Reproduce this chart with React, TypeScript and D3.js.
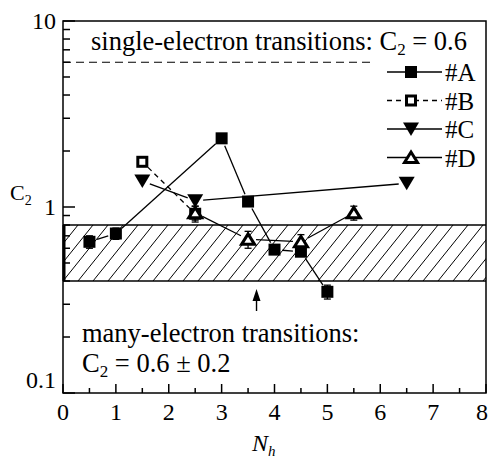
import React from "react";
import { scaleLinear, scaleLog, range } from "d3";

// sample #A .. #D : N_h vs C2
const nhA = [0.5, 1, 3, 3.5, 4, 4.5, 5];
const c2A = [0.65, 0.72, 2.34, 1.07, 0.59, 0.575, 0.35];
const errA = [0.05, 0.05, 0, 0, 0, 0, 0.03];

const nhB = [1.5, 2.5];
const c2B = [1.75, 0.92];
const errB = [0, 0.09];

const nhC = [1.5, 2.5, 6.5];
const c2C = [1.38, 1.08, 1.34];
const errC = [0, 0, 0];

const nhD = [2.5, 3.5, 4.5, 5.5];
const c2D = [0.93, 0.67, 0.65, 0.93];
const errD = [0.08, 0.07, 0.06, 0.08];

const xTicks = [0, 1, 2, 3, 4, 5, 6, 7, 8];
const yTicks = [0.1, 1, 10];
const yTickLabels = ["0.1", "1", "10"];

const singleLevel = 6;
const bandLow = 0.4;
const bandHigh = 0.8;
const arrowAt = 3.66;

const W = 489;
const H = 460;
const FONT = "Liberation Serif, Times New Roman, serif";

const x = scaleLinear().domain([0, 8]).range([63, 486]);
const y = scaleLog().domain([0.1, 10]).range([393, 21]);

type Series = {
  name: string;
  nh: number[];
  c2: number[];
  err: number[];
  marker: "sq" | "osq" | "tdown" | "otri";
  dash?: string;
};

const series: Series[] = [
  { name: "#A", nh: nhA, c2: c2A, err: errA, marker: "sq" },
  { name: "#B", nh: nhB, c2: c2B, err: errB, marker: "osq", dash: "5,4" },
  { name: "#C", nh: nhC, c2: c2C, err: errC, marker: "tdown" },
  { name: "#D", nh: nhD, c2: c2D, err: errD, marker: "otri" },
];

function Marker({ kind, cx, cy }: { kind: Series["marker"]; cx: number; cy: number }) {
  if (kind === "sq") return <rect x={cx - 6} y={cy - 6} width={12} height={12} fill="#000" />;
  if (kind === "osq")
    return <rect x={cx - 4.5} y={cy - 4.5} width={9} height={9} fill="#fff" stroke="#000" strokeWidth={3} />;
  if (kind === "tdown")
    return <path d={`M${cx - 8},${cy - 6.5}L${cx + 8},${cy - 6.5}L${cx},${cy + 7}Z`} fill="#000" />;
  return (
    <path
      d={`M${cx},${cy - 5.5}L${cx + 6.5},${cy + 5}L${cx - 6.5},${cy + 5}Z`}
      fill="#fff"
      stroke="#000"
      strokeWidth={3}
      strokeLinejoin="miter"
    />
  );
}

// connecting segments with a gap around each marker
function segments(s: Series, gap: number) {
  const out: JSX.Element[] = [];
  for (let i = 0; i < s.nh.length - 1; i++) {
    const x1 = x(s.nh[i]), y1 = y(s.c2[i]);
    const x2 = x(s.nh[i + 1]), y2 = y(s.c2[i + 1]);
    const len = Math.hypot(x2 - x1, y2 - y1);
    if (len <= 2 * gap) continue;
    const ux = (x2 - x1) / len, uy = (y2 - y1) / len;
    out.push(
      <line
        key={s.name + i}
        x1={x1 + ux * gap}
        y1={y1 + uy * gap}
        x2={x2 - ux * gap}
        y2={y2 - uy * gap}
        stroke="#000"
        strokeWidth={1.3}
        strokeDasharray={s.dash}
      />
    );
  }
  return out;
}

export default function App() {
  const left = x(0), right = x(8), top = y(10), bottom = y(0.1);
  const bTop = y(bandHigh), bBot = y(bandLow);
  const hatchRun = 45;
  const hatch = range(left - hatchRun, right + 15, 15);

  const minorY: number[] = [];
  [0.1, 1].forEach((d) => {
    for (let k = 2; k <= 9; k++) minorY.push(d * k);
  });
  const minorX = range(0.5, 8, 1);
  const ax = x(arrowAt);

  return (
    <svg
      width={W}
      height={H}
      style={{ position: "absolute", left: 0, top: 0, background: "#fff", fontFamily: FONT }}
    >
      <rect width={W} height={H} fill="#fff" />
      <defs>
        <clipPath id="band">
          <rect x={left} y={bTop} width={right - left} height={bBot - bTop} />
        </clipPath>
      </defs>

      {/* many-electron band */}
      <g clipPath="url(#band)">
        {hatch.map((h) => (
          <line key={h} x1={h} y1={bBot} x2={h + hatchRun} y2={bTop} stroke="#000" strokeWidth={1} />
        ))}
      </g>
      <line x1={left} x2={right} y1={bTop} y2={bTop} stroke="#000" strokeWidth={1.5} />
      <line x1={left} x2={right} y1={bBot} y2={bBot} stroke="#000" strokeWidth={1.5} />
      <line x1={left + 1} x2={left + 1} y1={bTop} y2={bBot} stroke="#000" strokeWidth={3} />

      {/* single-electron level */}
      <line
        x1={left}
        x2={375}
        y1={y(singleLevel)}
        y2={y(singleLevel)}
        stroke="#000"
        strokeWidth={1.2}
        strokeDasharray="8,5"
      />

      {/* frame */}
      <rect x={left} y={top} width={right - left} height={bottom - top} fill="none" stroke="#000" strokeWidth={1.5} />

      {/* y ticks */}
      {yTicks.map((t) => (
        <line key={"ym" + t} x1={left} x2={left + 12} y1={y(t)} y2={y(t)} stroke="#000" strokeWidth={1.5} />
      ))}
      {minorY.map((t) => (
        <line key={"yn" + t} x1={left} x2={left + 7} y1={y(t)} y2={y(t)} stroke="#000" strokeWidth={1.5} />
      ))}
      {yTicks.map((t, i) => (
        <text
          key={"yl" + t}
          x={left - 7}
          y={y(t) + (t === 0.1 ? -5 : 8)}
          textAnchor="end"
          fontSize={24}
        >
          {yTickLabels[i]}
        </text>
      ))}

      {/* x ticks */}
      {xTicks.map((t) => (
        <line key={"xm" + t} x1={x(t)} x2={x(t)} y1={bottom} y2={bottom - 9} stroke="#000" strokeWidth={1.5} />
      ))}
      {minorX.map((t) => (
        <line key={"xn" + t} x1={x(t)} x2={x(t)} y1={bottom} y2={bottom - 5} stroke="#000" strokeWidth={1.5} />
      ))}
      {xTicks.map((t, i) => (
        <text
          key={"xl" + t}
          x={i === xTicks.length - 1 ? W - 1 : x(t)}
          y={bottom + 27}
          textAnchor={i === xTicks.length - 1 ? "end" : "middle"}
          fontSize={24}
        >
          {t}
        </text>
      ))}

      {/* axis titles */}
      <text x={10} y={200} fontSize={22}>
        C<tspan fontSize={14} dy={5}>2</tspan>
      </text>
      <text x={252} y={451} fontSize={24} fontStyle="italic">
        N<tspan fontSize={15} dy={5}>h</tspan>
      </text>

      {/* annotations */}
      <text x={91} y={50} fontSize={26.5}>
        single-electron transitions: C<tspan fontSize={17} dy={5}>2</tspan>
        <tspan dy={-5}> = 0.6</tspan>
      </text>
      <text x={82} y={342} fontSize={26.5}>
        many-electron transitions:
      </text>
      <text x={82} y={372} fontSize={26.5}>
        C<tspan fontSize={17} dy={5}>2</tspan>
        <tspan dy={-5}> = 0.6 ± 0.2</tspan>
      </text>
      <line x1={ax} x2={ax} y1={311} y2={298} stroke="#000" strokeWidth={1.4} />
      <path d={`M${ax},${289}L${ax + 4},${301}L${ax - 4},${301}Z`} fill="#000" />

      {/* series lines */}
      {series.map((s) => segments(s, 8))}

      {/* error bars */}
      {series.map((s) =>
        s.nh.map((n, i) =>
          s.err[i] > 0 ? (
            <g key={s.name + "e" + i} stroke="#000" strokeWidth={1.3}>
              <line x1={x(n)} x2={x(n)} y1={y(s.c2[i] + s.err[i])} y2={y(s.c2[i] - s.err[i])} />
              <line x1={x(n) - 3.5} x2={x(n) + 3.5} y1={y(s.c2[i] + s.err[i])} y2={y(s.c2[i] + s.err[i])} />
              <line x1={x(n) - 3.5} x2={x(n) + 3.5} y1={y(s.c2[i] - s.err[i])} y2={y(s.c2[i] - s.err[i])} />
            </g>
          ) : null
        )
      )}

      {/* markers */}
      {series.map((s) =>
        s.nh.map((n, i) => <Marker key={s.name + "m" + i} kind={s.marker} cx={x(n)} cy={y(s.c2[i])} />)
      )}

      {/* legend */}
      {series.map((s, i) => {
        const ly = 72 + i * 28.5;
        return (
          <g key={"lg" + s.name}>
            <line x1={387} x2={442} y1={ly} y2={ly} stroke="#000" strokeWidth={1.3} strokeDasharray={s.dash} />
            <Marker kind={s.marker} cx={411} cy={ly} />
            <text x={445} y={ly + 9} fontSize={25}>
              {s.name}
            </text>
          </g>
        );
      })}
    </svg>
  );
}
